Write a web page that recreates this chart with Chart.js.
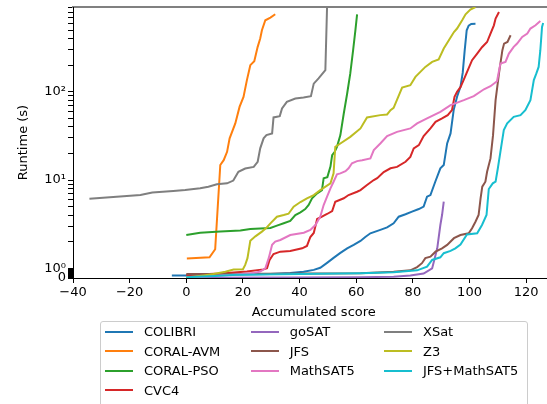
<!DOCTYPE html>
<html>
<head>
<meta charset="utf-8">
<title>Runtime vs accumulated score</title>
<script src="https://cdn.jsdelivr.net/npm/chart.js@4.4.1/dist/chart.umd.min.js"></script>
<style>
  html, body { margin: 0; padding: 0; background: #fff; overflow: hidden; }
  #wrap { position: relative; width: 547px; height: 404px; overflow: hidden; }
  #chart { position: absolute; left: 0; top: 0; }
  #legend {
    position: absolute; left: 100px; top: 321px; width: 428px; height: 86px;
    box-sizing: border-box; border: 1px solid #cccccc; border-radius: 3px;
    background: rgba(255, 255, 255, 0.8);
    font-family: 'DejaVu Sans', sans-serif; font-size: 13px; color: #000;
    display: grid; grid-template-columns: 145.7px 133.3px auto;
    grid-template-rows: repeat(4, 19.5px); padding: 0 0 0 4px;
  }
  .item { display: flex; align-items: center; white-space: nowrap; }
  .swatch { width: 28px; height: 2px; margin-right: 11px; flex: none; }
</style>
</head>
<body>
<div id="wrap">
  <canvas id="chart" width="560" height="404"></canvas>
  <div id="legend"></div>
</div>
<script>
// Solver names and colours (matplotlib tab10 order)
const solverNames = ['COLIBRI', 'CORAL-AVM', 'CORAL-PSO', 'CVC4', 'goSAT', 'JFS', 'MathSAT5', 'XSat', 'Z3', 'JFS+MathSAT5'];
const solverColors = ['#1f77b4', '#ff7f0e', '#2ca02c', '#d62728', '#9467bd', '#8c564b', '#e377c2', '#7f7f7f', '#bcbd22', '#17becf'];

// [accumulated score, runtime in seconds]
const colibri = [[-5.1, 0.26], [0.2, 0.26], [29.7, 0.40], [36.7, 0.50], [41.4, 0.63], [45.0, 0.83], [47.3, 1.01], [49.7, 1.15], [52.0, 1.31], [54.4, 1.49], [56.8, 1.68], [59.1, 1.84], [61.5, 2.04], [63.2, 2.26], [65.0, 2.49], [68.5, 2.72], [70.9, 2.90], [73.2, 3.23], [75.0, 3.84], [77.4, 4.09], [79.7, 4.38], [82.1, 4.69], [83.8, 4.99], [85.0, 6.47], [86.2, 6.76], [88.0, 9.75], [89.7, 13.6], [90.9, 14.8], [92.1, 26.0], [93.3, 33.8], [94.4, 62.1], [95.6, 88], [96.8, 114], [97.6, 165], [98.3, 297], [99.0, 500], [99.7, 565], [100.6, 590], [102.1, 592]];
const coralAvm = [[0.2, 1.29], [8.2, 1.33], [10.2, 1.64], [12.0, 14.8], [13.2, 16.8], [14.4, 20.9], [15.3, 29.7], [17.3, 43.9], [18.8, 67.6], [20.2, 87.7], [21.4, 136], [22.6, 201], [24.0, 223], [25.2, 324], [26.1, 403], [26.7, 500], [27.9, 649], [29.7, 697], [31.4, 759]];
const coralPso = [[0, 2.38], [4.9, 2.53], [12.0, 2.60], [19.1, 2.67], [22.6, 2.79], [29.7, 2.86], [32.0, 3.04], [34.4, 3.23], [36.7, 3.43], [38.5, 4.01], [40.3, 4.31], [42.0, 4.69], [43.2, 5.21], [44.4, 6.21], [46.2, 7.07], [47.9, 7.70], [48.5, 10.5], [49.8, 10.8], [50.9, 14.2], [51.5, 19.2], [52.4, 20.9], [53.2, 23.8], [54.4, 32.3], [55.6, 56.9], [56.8, 95.9], [57.9, 162], [58.9, 297], [59.7, 500], [60.3, 759]];
const cvc4 = [[0, 0.3], [12, 0.45], [21.4, 0.66], [27.3, 0.88], [28.5, 1.0], [29.4, 1.24], [30.8, 1.45], [33.2, 1.54], [36.7, 1.57], [40.9, 1.68], [42.6, 1.79], [43.8, 2.26], [45.0, 2.51], [46.2, 3.61], [47.9, 3.84], [49.7, 4.12], [51.5, 4.45], [52.6, 5.68], [55.6, 6.21], [57.3, 6.76], [60.3, 7.37], [61.5, 7.70], [63.8, 8.77], [66.2, 10.0], [67.4, 10.5], [69.7, 12.3], [72.1, 13.6], [74.4, 14.1], [77.4, 16.1], [79.1, 18.3], [80.3, 22.9], [82.1, 24.9], [83.8, 31.5], [86.2, 38.5], [88.0, 45.7], [90.3, 50.0], [92.3, 54.5], [93.8, 62.1], [94.7, 87.8], [95.6, 100], [96.8, 113], [97.9, 136], [99.1, 168], [100.9, 229], [102.7, 272], [104.4, 321], [106.2, 368], [107.4, 459], [108.6, 569], [109.2, 678], [110.4, 805]];
const gosat = [[0, 0.03], [40.3, 0.05], [61.5, 0.07], [73.2, 0.14], [79.1, 0.25], [83.8, 0.45], [86.8, 0.98], [88.6, 1.68], [89.7, 3.09], [90.3, 4.01], [90.9, 5.68]];
const jfs = [[0, 0.40], [9.6, 0.40], [61.5, 0.48], [73.2, 0.63], [79.1, 0.78], [81.5, 1.03], [83.2, 1.14], [84.4, 1.30], [86.2, 1.35], [88.0, 1.54], [90.3, 1.68], [92.1, 1.84], [94.5, 2.19], [96.8, 2.38], [99.7, 2.49], [100.9, 2.84], [102.1, 3.37], [103.2, 4.01], [103.9, 6.21], [104.5, 8.40], [105.6, 9.57], [106.2, 12.4], [107.4, 17.6], [108.3, 32.3], [109.2, 80.5], [110.4, 162], [111.6, 297], [112.2, 353], [113.4, 368], [114.5, 439]];
const mathsat5 = [[0, 0.05], [15, 0.3], [23.8, 0.5], [26.1, 0.66], [27.9, 0.98], [29.1, 1.30], [30.3, 1.84], [31.4, 2.0], [33.2, 2.09], [36.7, 2.38], [41.5, 2.53], [43.8, 2.72], [45.6, 3.09], [47.3, 3.84], [48.5, 5.21], [49.7, 6.47], [50.9, 8.05], [52.0, 9.57], [53.2, 11.6], [54.4, 11.9], [56.2, 12.6], [57.3, 13.6], [58.5, 15.5], [60.3, 16.4], [62.1, 16.8], [65.0, 17.6], [66.2, 21.9], [68.5, 26.0], [70.9, 31.5], [74.4, 35.2], [79.1, 38.5], [81.5, 43.9], [85.0, 50.0], [89.7, 59.3], [93.3, 70.7], [98.0, 80.5], [101.5, 89.4], [105.1, 107], [107.4, 116], [109.7, 132], [110.9, 210], [112.7, 219], [113.9, 272], [115.6, 324], [116.8, 353], [118.6, 420], [120.4, 459], [121.5, 523], [123.3, 569], [125.0, 637]];
const xsat = [[-34.2, 6.14], [-16.2, 6.76], [-12.0, 7.22], [-4.6, 7.5], [-0.4, 7.70], [4.9, 8.05], [7.8, 8.4], [10.8, 8.94], [14.4, 9.18], [16.6, 9.87], [18.4, 12.4], [20.8, 13.5], [23.8, 14.1], [25.2, 16.1], [26.1, 22.9], [27.3, 29.7], [28.3, 32.3], [30.3, 33.8], [30.8, 51.3], [33.0, 53.1], [33.8, 64.9], [35.5, 77.1], [38.5, 84.2], [41.4, 86.4], [44.0, 89.4], [45.0, 124], [46.7, 142], [49.1, 176], [49.7, 918], [52.3, 918]];
const z3 = [[0, 0.05], [6.1, 0.26], [9.6, 0.4], [13.8, 0.63], [16.7, 0.86], [20.0, 0.9], [20.8, 1.09], [21.6, 1.30], [22.6, 2.05], [24.4, 2.3], [26.7, 2.6], [28.4, 2.9], [29.7, 3.23], [32.0, 3.84], [34.4, 4.01], [36.1, 4.15], [37.9, 4.99], [40.3, 5.63], [42.6, 6.21], [45.0, 6.76], [47.3, 7.70], [50.9, 9.18], [52.0, 11.9], [52.6, 23.8], [54.4, 26.0], [57.9, 30.9], [61.5, 38.5], [63.8, 51.3], [68.5, 54.5], [70.9, 55.5], [72.1, 62.1], [73.2, 65.9], [76.2, 112], [79.1, 119], [80.9, 148], [84.4, 192], [86.8, 219], [89.1, 233], [90.9, 310], [92.7, 385], [94.5, 478], [95.6, 523], [97.4, 649], [98.6, 759], [100.3, 857], [102.1, 918]];
const jfsMathsat5 = [[0, 0.08], [10, 0.2], [17.9, 0.33], [40.3, 0.40], [61.5, 0.48], [73.2, 0.58], [81.5, 0.78], [85.0, 1.04], [86.8, 1.24], [89.7, 1.33], [90.9, 1.48], [93.3, 1.57], [95.0, 1.68], [96.8, 1.86], [99.1, 2.41], [102.7, 2.49], [104.4, 3.09], [106.0, 4.01], [106.8, 7.91], [108.2, 9.18], [109.2, 9.57], [110.0, 13.6], [110.9, 20.9], [112.1, 36.8], [113.3, 43.9], [115.6, 52.1], [118.0, 54.5], [119.7, 62.1], [121.5, 80.5], [122.7, 136], [123.6, 162], [124.4, 192], [125.0, 297], [125.6, 545], [126.0, 604]];

const solverSeries = [colibri, coralAvm, coralPso, cvc4, gosat, jfs, mathsat5, xsat, z3, jfsMathsat5];

// Axis ticks
const yMajorTicks = [0, 1, 10, 100];
const yMajorLabels = ['0', '10\u2070', '10\u00b9', '10\u00b2'];
const yMinorTicks = [0.1, 0.2, 0.3, 0.4, 0.5, 0.6, 0.7, 0.8, 0.9,
  2, 3, 4, 5, 6, 7, 8, 9, 20, 30, 40, 50, 60, 70, 80, 90,
  200, 300, 400, 500, 600, 700, 800, 900];

// Symmetric log scale (linthresh 1, linscale 0.1), like matplotlib's symlog
const LIN_SPAN = 0.1 / 0.9;
function symT(v) { return v <= 1 ? v * LIN_SPAN : LIN_SPAN + Math.log10(v); }
function symInv(t) { return t <= LIN_SPAN ? t / LIN_SPAN : Math.pow(10, t - LIN_SPAN); }

class SymlogScale extends Chart.Scale {
    determineDataLimits() {
        this.min = this.options.min;
        this.max = this.options.max;
    }
    buildTicks() {
        const ticks = yMajorTicks.map(v => ({ value: v, major: true }));
        yMinorTicks.forEach(v => ticks.push({ value: v, major: false }));
        return ticks.sort((a, b) => a.value - b.value);
    }
    configure() {
        super.configure();
        this._t0 = symT(this.min);
        this._tSpan = symT(this.max) - this._t0;
    }
    getPixelForValue(v) {
        return this.getPixelForDecimal((symT(v) - this._t0) / this._tSpan);
    }
    getValueForPixel(p) {
        return symInv(this._t0 + this.getDecimalForPixel(p) * this._tSpan);
    }
    getLabelForValue(v) {
        return String(v);
    }
}
SymlogScale.id = 'symlog';
SymlogScale.defaults = {};
Chart.register(SymlogScale);

Chart.defaults.font.family = "'DejaVu Sans', sans-serif";
Chart.defaults.font.size = 13;
Chart.defaults.color = '#000';

const datasets = solverNames.map((name, i) => ({
    label: name,
    data: solverSeries[i].map(p => ({ x: p[0], y: p[1] })),
    borderColor: solverColors[i],
    backgroundColor: solverColors[i],
    borderWidth: 2,
    pointRadius: 0,
    tension: 0,
    fill: false,
    order: -i // later solvers on top, as in matplotlib
}));

const chart = new Chart(document.getElementById('chart'), {
    type: 'line',
    data: { datasets: datasets },
    options: {
        responsive: false,
        animation: false,
        devicePixelRatio: 1,
        layout: { padding: { top: 7, left: 0, right: 5.5, bottom: 82 } },
        plugins: { legend: { display: false }, tooltip: { enabled: false } },
        scales: {
            x: {
                type: 'linear', position: 'bottom', min: -40, max: 130,
                ticks: {
                    stepSize: 20, includeBounds: false, autoSkip: false, maxRotation: 0, padding: 2,
                    callback: v => String(v).replace('-', '\u2212')
                },
                grid: { drawOnChartArea: false, tickLength: 5, tickColor: '#000' },
                border: { color: '#000', width: 1 },
                title: { display: true, text: 'Accumulated score', padding: { top: 0, bottom: 2 } },
                afterFit: s => { s.height = 44; s.paddingLeft = 0; s.paddingRight = 0; }
            },
            x2: {
                type: 'linear', position: 'top', min: -40, max: 130,
                ticks: { display: false },
                grid: { display: false, drawTicks: false },
                border: { color: '#808080', width: 2 },
                afterFit: s => { s.height = 0; s.paddingLeft = 0; s.paddingRight = 0; }
            },
            y: {
                type: 'symlog', position: 'left', min: 0, max: 918,
                ticks: {
                    autoSkip: false, padding: 2,
                    callback: v => {
                        const k = yMajorTicks.indexOf(v);
                        return k >= 0 ? yMajorLabels[k] : '';
                    }
                },
                grid: { drawOnChartArea: false, tickLength: 5, tickColor: '#000' },
                border: { color: '#000', width: 1 },
                title: { display: true, text: 'Runtime (s)', padding: { top: 16, bottom: 0 } },
                afterFit: s => { s.width = 73; s.paddingTop = 0; s.paddingBottom = 0; }
            }
        }
    }
});

// Legend in matplotlib's column order (4 + 3 + 3)
function buildLegend(chart) {
    const box = document.getElementById('legend');
    chart.data.datasets.forEach((ds, i) => {
        const col = i < 4 ? 0 : (i < 7 ? 1 : 2);
        const row = i < 4 ? i : (i < 7 ? i - 4 : i - 7);
        const item = document.createElement('div');
        item.className = 'item';
        item.style.gridColumn = String(col + 1);
        item.style.gridRow = String(row + 1);
        const sw = document.createElement('span');
        sw.className = 'swatch';
        sw.style.background = ds.borderColor;
        const txt = document.createElement('span');
        txt.textContent = ds.label;
        item.appendChild(sw);
        item.appendChild(txt);
        box.appendChild(item);
    });
}
buildLegend(chart);
</script>
</body>
</html>
